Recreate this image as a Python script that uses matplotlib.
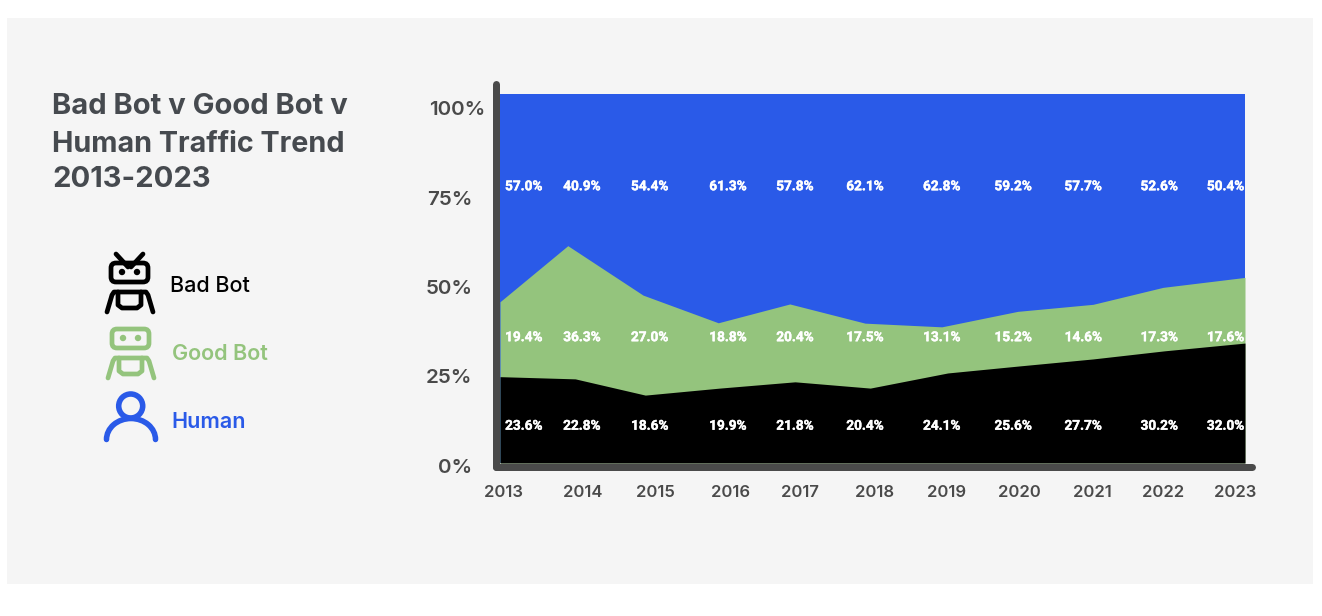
import matplotlib
matplotlib.use("Agg")
import matplotlib.pyplot as plt
from matplotlib.patches import Rectangle, FancyBboxPatch, Circle, Arc
import matplotlib.patheffects as pe

plt.rcParams['font.family'] = ['Inter', 'DejaVu Sans']

# values printed on the chart
years = ['2013', '2014', '2015', '2016', '2017', '2018', '2019', '2020', '2021', '2022', '2023']
bad_bot = [23.6, 22.8, 18.6, 19.9, 21.8, 20.4, 24.1, 25.6, 27.7, 30.2, 32.0]
good_bot = [19.4, 36.3, 27.0, 18.8, 20.4, 17.5, 13.1, 15.2, 14.6, 17.3, 17.6]
human = [57.0, 40.9, 54.4, 61.3, 57.8, 62.1, 62.8, 59.2, 57.7, 52.6, 50.4]

# heights of the areas as drawn, which differ a little from the printed numbers
bad_top = [23.4, 22.8, 18.4, 20.3, 22.0, 20.3, 24.4, 26.3, 28.2, 30.4, 32.5]
good_top = [43.7, 58.9, 45.5, 38.0, 43.1, 37.9, 36.9, 41.1, 43.0, 47.6, 50.3]

# the original's vertices and labels are not evenly spaced, so read them too
bad_x = [2013, 2014.01, 2014.95, 2015.95, 2016.96, 2017.97, 2019.01, 2019.97, 2020.96, 2021.92, 2023]
good_x = [2013, 2013.91, 2014.92, 2015.93, 2016.89, 2017.90, 2018.93, 2019.95, 2020.96, 2021.90, 2023]
label_x = [2013.32, 2014.10, 2015.01, 2016.06, 2016.96, 2017.90, 2018.93, 2019.89, 2020.83, 2021.85, 2022.74]
tick_x = [2013.05, 2014.11, 2015.08, 2016.09, 2017.03, 2018.03, 2019.0, 2019.97, 2020.95, 2021.90, 2022.87]
pct_ticks = [-0.8, 23.5, 47.7, 71.8, 96.2]
pct_labels = ['0%', '25%', '50%', '75%', '100%']

title_lines = ['Bad Bot v Good Bot v', 'Human Traffic Trend', '2013-2023']

BLACK = '#000000'
GREEN = '#94c47d'
BLUE = '#2a5ae8'
GREY = '#4a4a4a'
PANEL = '#f5f5f5'
W, H = 1322, 616

fig = plt.figure(figsize=(W / 100, H / 100), dpi=100, facecolor='white')
fig.patches.append(Rectangle((7 / W, 32 / H), 1306 / W, 566 / H, transform=fig.transFigure,
                             facecolor=PANEL, edgecolor='none', zorder=-10))

# main chart, the axes run 3px under zero so the 0% label can sit low as in the original
ax = fig.add_axes([500 / W, (H - 466) / H, 745 / W, 372 / H], facecolor='none')
ax.fill_between([2013, 2023], 0, 100, color=BLUE, lw=0)
ax.fill_between(good_x, 0, good_top, color=GREEN, lw=0)
ax.fill_between(bad_x, 0, bad_top, color=BLACK, lw=0)

for x, h, g, b in zip(label_x, human, good_bot, bad_bot):
    for v, y in ((h, 75.0), (g, 34.1), (b, 10.1)):
        ax.text(x, y, f'{v:.1f}%', color='white', ha='center', va='center',
                family='Roboto', fontweight='bold', fontsize=9.8,
                path_effects=[pe.withStroke(linewidth=0.3, foreground='white')])

for side in ('top', 'right'):
    ax.spines[side].set_visible(False)
for side in ('left', 'bottom'):
    ax.spines[side].set_color(GREY)
    ax.spines[side].set_linewidth(5.04)
    ax.spines[side].set_capstyle('round')
ax.spines['left'].set_position(('outward', 2.52))
ax.spines['bottom'].set_position(('outward', 0.36))
ax.spines['left'].set_bounds(-0.95, 102.6)
ax.spines['bottom'].set_bounds(2012.953, 2023.1)

# tick styling has to come after set_position, which resets the ticks
ax.set_xticks(tick_x, years)
ax.set_yticks(pct_ticks, pct_labels)
ax.set_xlim(2013, 2023)
ax.set_ylim(-0.813, 100)
ax.tick_params(axis='both', length=0)
ax.tick_params(axis='x', pad=13.6, labelcolor=GREY, labelsize=12)
ax.tick_params(axis='y', pad=17.3, labelcolor=GREY, labelsize=14.8)
for lab in ax.get_xticklabels():
    lab.set_fontweight('semibold')
for lab in ax.get_yticklabels():
    lab.set_fontweight('semibold')
# 100% sits flush left with the other labels in the original
ax.get_yticklabels()[-1].set_x(13 / 745)

# title, legend text and icons are laid out in pixels
ov = fig.add_axes([0, 0, 1, 1], facecolor='none')
ov.set_xlim(0, W)
ov.set_ylim(H, 0)
ov.axis('off')

for line, y, size in zip(title_lines, (113.5, 151.5, 187), (21, 20.7, 21)):
    ov.text(52, y, line, color='#464a4f', fontsize=size, fontweight='bold', va='baseline', ha='left')

ov.text(170, 292, 'Bad Bot', color=BLACK, fontsize=15.5, fontweight='medium', va='baseline')
ov.text(172, 360, 'Good Bot', color=GREEN, fontsize=15.5, fontweight='semibold', va='baseline')
ov.text(171.5, 428, 'Human', color=BLUE, fontsize=15.5, fontweight='semibold', va='baseline')


def stroke(xs, ys, color, lw=3.4):
    ov.plot(xs, ys, color=color, lw=lw, solid_capstyle='round', solid_joinstyle='round')


def robot(left, top, color, angry=False):
    # head
    ov.add_patch(FancyBboxPatch((left + 2, top + 2), 37, 19, boxstyle='round,pad=0,rounding_size=5',
                                facecolor='none', edgecolor=color, lw=3.4))
    ov.add_patch(Circle((left + 13, top + 11), 3.2, color=color, lw=0))
    ov.add_patch(Circle((left + 28, top + 11), 3.2, color=color, lw=0))
    # arms and shoulders
    stroke([left - 2, left + 3, left + 5, left + 37, left + 39, left + 44],
           [top + 51, top + 34, top + 31, top + 31, top + 34, top + 51], color)
    # torso
    stroke([left + 9, left + 9, left + 13, left + 28, left + 32, left + 32],
           [top + 31, top + 44, top + 47, top + 47, top + 44, top + 31], color)
    if angry:
        stroke([left + 7, left + 19], [top - 7, top + 6], color)
        stroke([left + 34, left + 22], [top - 7, top + 6], color)


robot(109, 261, BLACK, angry=True)
robot(110, 327, GREEN)

ov.add_patch(Circle((130.7, 406), 12, facecolor='none', edgecolor=BLUE, lw=4))
ov.add_patch(Arc((131, 439.5), 49, 42, theta1=180, theta2=360, edgecolor=BLUE, lw=4, capstyle='round'))

fig.savefig('out.png', dpi=100, facecolor=fig.get_facecolor())
